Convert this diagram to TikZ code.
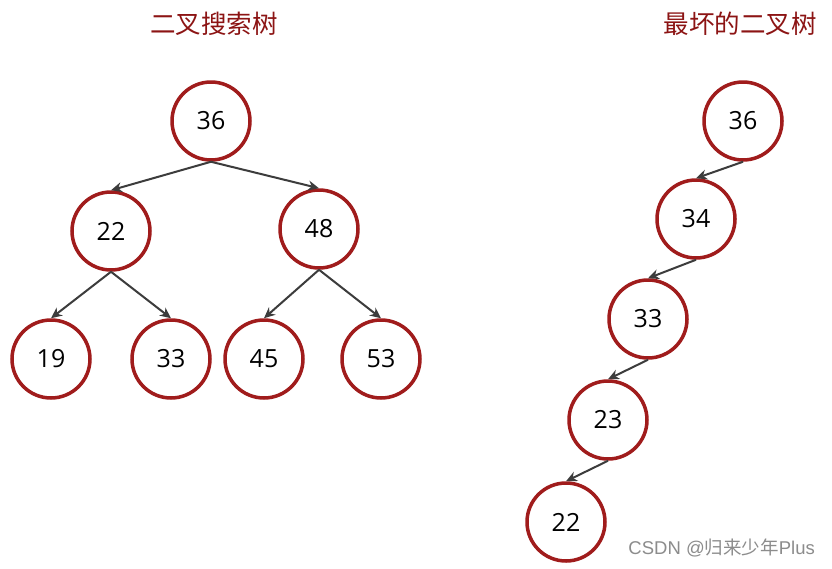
\documentclass[tikz,border=0pt]{standalone}
\usepackage{fontspec}
\setmainfont{Open Sans}
\newfontfamily\cjk{Noto Sans CJK SC}
\newfontfamily\wmfont{Liberation Sans}
\usetikzlibrary{arrows.meta}
\definecolor{nodered}{RGB}{160,28,28}
\definecolor{titlered}{RGB}{140,20,20}
\definecolor{edgegray}{RGB}{60,60,60}
\tikzset{
  tnode/.style={circle,draw=nodered,line width=3.5pt,minimum size=78pt,inner sep=0pt,fill=white,font=\fontsize{25}{25}\selectfont},
  tedge/.style={draw=edgegray,line width=2pt,-{Stealth[length=11pt,width=10pt]}},
  ttitle/.style={text=titlered,font=\cjk\fontsize{25.5}{25.5}\selectfont},
}
\begin{document}
\begin{tikzpicture}[x=1pt,y=-1pt]
\useasboundingbox (0,0) rectangle (832,568);
\fill[white] (0,0) rectangle (832,568);
\node[ttitle] (t1) at (214,24) {二叉搜索树};
\node[ttitle] (t2) at (740,24) {最坏的二叉树};
% left tree
\node[tnode] (a36) at (211,121) {36};
\node[tnode] (a22) at (111,231) {22};
\node[tnode] (a48) at (319,229) {48};
\node[tnode] (a19) at (51,359) {19};
\node[tnode] (a33) at (171,359) {33};
\node[tnode] (a45) at (264,359) {45};
\node[tnode] (a53) at (381,359) {53};
\draw[tedge] (a36.south) -- (a22.north);
\draw[tedge] (a36.south) -- (a48.north);
\draw[tedge] (a22.south) -- (a19.north);
\draw[tedge] (a22.south) -- (a33.north);
\draw[tedge] (a48.south) -- (a45.north);
\draw[tedge] (a48.south) -- (a53.north);
% right tree
\node[tnode] (b36) at (743,121) {36};
\node[tnode] (b34) at (696,219) {34};
\node[tnode] (b33) at (648,319) {33};
\node[tnode] (b23) at (608,420) {23};
\node[tnode] (b22) at (566,522) {22};
\draw[tedge] (b36.south) -- (b34.north);
\draw[tedge] (b34.south) -- (b33.north);
\draw[tedge] (b33.south) -- (b23.north);
\draw[tedge] (b23.south) -- (b22.north);
\node[text=black!45,anchor=east,inner sep=0pt] (wm) at (815,548) {\wmfont\fontsize{18.5}{18.5}\selectfont CSDN @\cjk 归来少年\wmfont Plus};
\end{tikzpicture}
\end{document}
